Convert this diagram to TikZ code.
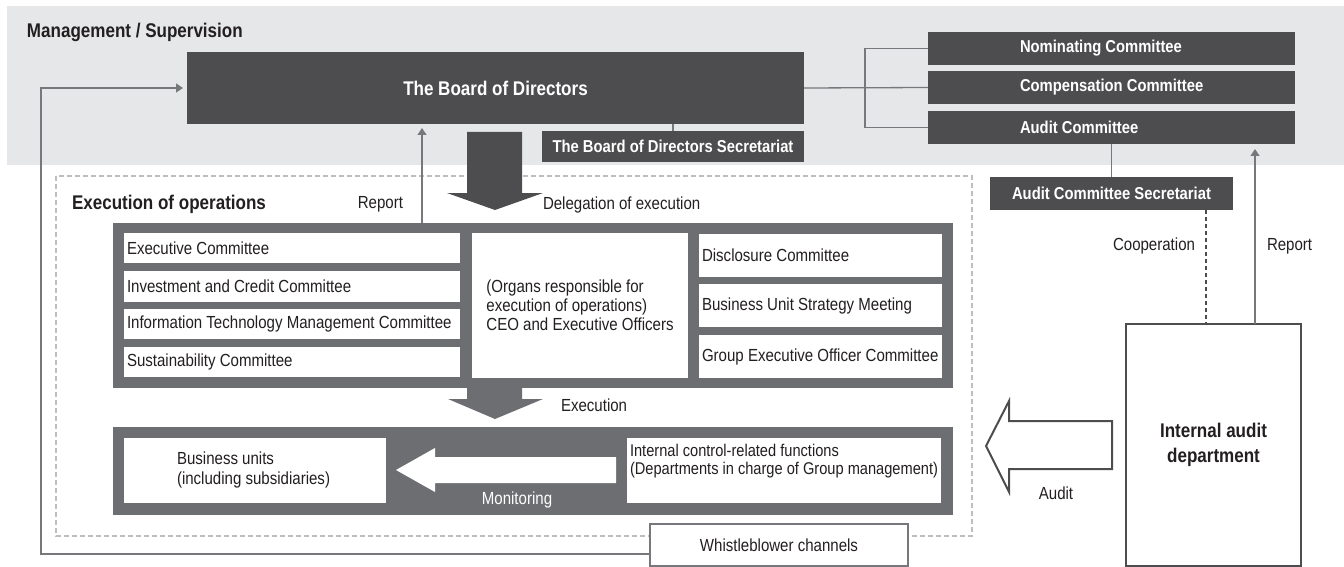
\documentclass[tikz,border=0pt]{standalone}
\usepackage{fontspec}
\setmainfont{Liberation Sans}[FakeStretch=0.86]
\usetikzlibrary{arrows.meta}
\definecolor{band}{HTML}{E6E7E8}
\definecolor{dark}{HTML}{4D4D4F}
\definecolor{mid}{HTML}{6D6E71}
\definecolor{lncol}{HTML}{77787B}
\definecolor{dashcol}{HTML}{BCBEC0}
\definecolor{txt}{HTML}{231F20}
\newcommand\fr{\fontsize{17.5pt}{19pt}\selectfont}
\newcommand\fb{\fontsize{17.2pt}{19pt}\selectfont\bfseries}
\newcommand\fB{\fontsize{19.8pt}{25pt}\selectfont\bfseries}
\begin{document}
\hyphenpenalty=10000 \exhyphenpenalty=10000
\begin{tikzpicture}[x=1pt,y=-1pt,
  every node/.style={inner sep=0pt, outer sep=0pt, text=txt},
  dbox/.style={fill=dark, text=white, anchor=north west, font=\fb},
  wbox/.style={fill=white, anchor=north west, font=\fr, align=flush left},
  lbl/.style={font=\fr},
  ln/.style={draw=lncol, line width=1.3pt},
  arr/.style={ln, -{Triangle[length=7pt,width=9pt]}}]
\useasboundingbox (0,0) rectangle (1344,567);
% background band
\fill[band] (7,6) rectangle (1344,165);
\node[font=\fB, anchor=west] (ms) at (27,32) {Management / Supervision};
% dashed execution area
\draw[dashcol, line width=1.4pt, dash pattern=on 5pt off 3pt] (56,176) rectangle (972,536);
\node[font=\fB, anchor=west] (eo) at (72,204) {Execution of operations};
% board
\node[dbox, font=\fB, minimum width=617pt, minimum height=72pt] (board) at (187,52) {The Board of Directors};
\node[dbox, minimum width=262pt, minimum height=31pt] (bsec) at (542,131) {The Board of Directors Secretariat};
\draw[ln] (bsec.north) -- (bsec.north |- board.south);
% committees
\node[dbox, minimum width=367pt, minimum height=33pt, text width=367pt, align=flush left] (nom) at (928,32) {\hspace*{92pt}Nominating Committee};
\node[dbox, minimum width=367pt, minimum height=33pt, text width=367pt, align=flush left] (comp) at (928,71) {\hspace*{92pt}Compensation Committee};
\node[dbox, minimum width=367pt, minimum height=33pt, text width=367pt, align=flush left] (audc) at (928,111) {\hspace*{92pt}Audit Committee};
\coordinate (br) at (865,88);
\draw[ln] (board.east) -- (comp.west);
\draw[ln] (nom.west) -| (br);
\draw[ln] (audc.west) -| (br);
\node[dbox, minimum width=243pt, minimum height=33pt] (acsec) at (990,177) {Audit Committee Secretariat};
\draw[ln] (acsec.north) -- (acsec.north |- audc.south);
% internal audit
\node[draw=dark, line width=2pt, fill=white, minimum width=175pt, minimum height=242pt, anchor=north west, font=\fB, align=center] (iad) at (1126,324) {Internal audit\\department};
\coordinate (coop) at (1206,0);
\coordinate (rep) at (1255,0);
\draw[dark, line width=1.6pt, dash pattern=on 4pt off 3pt] (acsec.south -| coop) -- (iad.north -| coop);
\draw[arr, shorten >=5pt] (iad.north -| rep) -- (audc.south -| rep);
\node[lbl, anchor=east] (coopl) at (1195,246) {Cooperation};
\node[lbl, anchor=west] (rep2) at (1267,246) {Report};
% execution group
\node[fill=mid, anchor=north west, minimum width=840pt, minimum height=165pt] (execgrp) at (113,223) {};
\node[wbox, minimum width=336pt, minimum height=30pt, text width=330pt] (ec) at (124,233) {Executive Committee};
\node[wbox, minimum width=336pt, minimum height=31pt, text width=330pt] (icc) at (124,271) {Investment and Credit Committee};
\node[wbox, minimum width=336pt, minimum height=30pt, text width=330pt] (itc) at (124,309) {Information Technology Management Committee};
\node[wbox, minimum width=336pt, minimum height=30pt, text width=330pt] (sc) at (124,347) {Sustainability Committee};
\node[wbox, align=left, minimum width=216pt, minimum height=145pt] (ceo) at (472,233) {(Organs responsible for\\execution of operations)\\CEO and Executive Officers};
\node[wbox, minimum width=243pt, minimum height=43pt, text width=237pt] (dc) at (699,234) {Disclosure Committee};
\node[wbox, minimum width=243pt, minimum height=43pt, text width=237pt] (bus) at (699,284) {Business Unit Strategy Meeting};
\node[wbox, minimum width=243pt, minimum height=43pt, text width=237pt] (geo) at (699,335) {Group Executive Officer Committee};
% report left
\coordinate (rl) at (422,0);
\draw[arr, shorten >=4pt] (execgrp.north -| rl) -- (board.south -| rl);
\node[lbl, anchor=east] (rep1) at (403,204) {Report};
% delegation arrow
\fill[dark] (467,132) -- (522,132) -- (522,193) -- (543,193) -- (495,210) -- (447,193) -- (467,193) -- cycle;
\node[lbl, anchor=west] (deleg) at (543,205) {Delegation of execution};
% execution arrow
\fill[mid] (467,386) -- (522,386) -- (522,399) -- (543,399) -- (495,419) -- (448,399) -- (467,399) -- cycle;
\node[lbl, anchor=west] (exe) at (561,405) {Execution};
% bottom group
\node[fill=mid, anchor=north west, minimum width=840pt, minimum height=88pt] (botgrp) at (113,427) {};
\node[wbox, minimum width=262pt, minimum height=65pt] (bu) at (124,438) {};
\node[font=\fontsize{17.5pt}{20pt}\selectfont, align=left, anchor=west] (butxt) at (177,470) {Business units\\(including subsidiaries)};
\node[wbox, minimum width=314pt, minimum height=65pt] (icf) at (627,438) {};
\node[font=\fontsize{17pt}{18.5pt}\selectfont, align=left, anchor=west] (icftxt) at (630,461) {Internal control-related functions\\(Departments in charge of Group management)};
\fill[white] (616,457) -- (435,457) -- (435,448) -- (396,470) -- (435,492) -- (435,483) -- (616,483) -- cycle;
\node[lbl, text=white] (mon) at (517,500) {Monitoring};
% audit hollow arrow
\draw[dark, line width=2pt, fill=white, line join=miter] (1112,421) -- (1009,421) -- (1009,401) -- (986,446) -- (1009,492) -- (1009,469) -- (1112,469) -- cycle;
\node[lbl] (audl) at (1056,493) {Audit};
% whistleblower
\node[draw=lncol, line width=1.3pt, fill=white, minimum width=258pt, minimum height=42pt, anchor=north west, font=\fr] (wb) at (650,524) {Whistleblower channels};
\coordinate (wbin) at (650,554);
\coordinate (lp) at (41,0);
\draw[arr, shorten >=4pt] (wbin) -- (lp |- wbin) -- (lp |- board.west) -- (board.west);
\end{tikzpicture}
\end{document}
